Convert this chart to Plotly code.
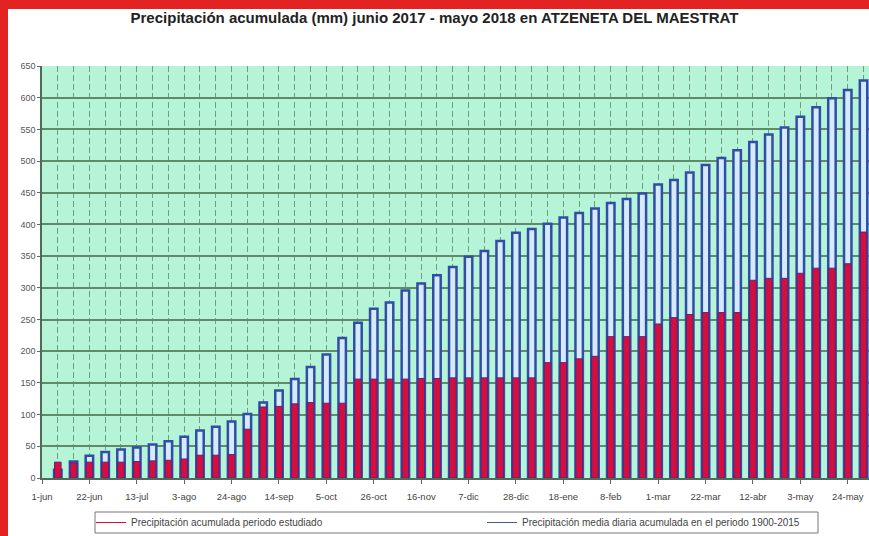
import plotly.graph_objects as go
import pandas as pd

# ---------------- data ----------------
BAR_DATES = pd.date_range("2017-06-08", "2018-05-31", freq="7D")

MEDIA_ACUM = [13, 26, 35, 41, 45, 48, 53, 58, 65, 75, 81, 89, 101, 119, 138, 156,
              175, 195, 221, 245, 267, 277, 296, 307, 320, 333, 349, 358, 374, 387,
              393, 401, 411, 418, 425, 434, 440, 449, 463, 470, 482, 494, 505, 517,
              530, 542, 553, 570, 585, 599, 612, 627]

PERIODO_ACUM = [25, 24, 25, 25, 25, 26, 27, 28, 30, 36, 36, 37, 77, 112, 113, 117,
                119, 118, 118, 156, 156, 156, 156, 157, 157, 158, 158, 158, 158, 158,
                158, 182, 182, 188, 192, 223, 223, 223, 243, 253, 258, 261, 261, 261,
                312, 315, 315, 323, 331, 331, 338, 388]

TICK_DATES = ["2017-06-01", "2017-06-22", "2017-07-13", "2017-08-03", "2017-08-24",
              "2017-09-14", "2017-10-05", "2017-10-26", "2017-11-16", "2017-12-07",
              "2017-12-28", "2018-01-18", "2018-02-08", "2018-03-01", "2018-03-22",
              "2018-04-12", "2018-05-03", "2018-05-24"]
TICK_LABELS = ["1-jun", "22-jun", "13-jul", "3-ago", "24-ago", "14-sep", "5-oct",
               "26-oct", "16-nov", "7-dic", "28-dic", "18-ene", "8-feb", "1-mar",
               "22-mar", "12-abr", "3-may", "24-may"]

TITLE = "Precipitación acumulada (mm) junio 2017 - mayo 2018 en ATZENETA DEL MAESTRAT"
NAME_RED = "Precipitación acumulada periodo estudiado"
NAME_BLUE = "Precipitación media diaria acumulada en el periodo 1900-2015"

# ---------------- layout geometry ----------------
W, H = 869, 536
ML, MR, MT, MB = 42, 0, 66, 58
PW, PH = W - ML - MR, H - MT - MB
DAY = 86400000


def px_x(px):
    return (px - ML) / PW


def px_y(py):
    return (H - MB - py) / PH


fig = go.Figure()

fig.add_trace(go.Bar(
    x=BAR_DATES, y=MEDIA_ACUM, width=3.3 * DAY,
    marker=dict(color="#d6eafb", line=dict(color="#2f4ea6", width=2.5)),
    showlegend=False, hoverinfo="skip"))

fig.add_trace(go.Bar(
    x=BAR_DATES, y=PERIODO_ACUM, width=2.9 * DAY,
    marker=dict(color="#d50f3d", line=dict(color="#5b237f", width=1)),
    showlegend=False, hoverinfo="skip"))

# legend entries drawn as lines (two legends placed inside one framed box)
fig.add_trace(go.Scatter(x=[None], y=[None], mode="lines", name=NAME_RED,
                         line=dict(color="#d50f3d", width=1), legend="legend"))
fig.add_trace(go.Scatter(x=[None], y=[None], mode="lines", name=NAME_BLUE,
                         line=dict(color="#4a5a7a", width=1), legend="legend2"))

grid_h = "#5f8b6c"
grid_v = "#6f9f7e"
leg_common = dict(orientation="h", bgcolor="rgba(0,0,0,0)", borderwidth=0,
                  font=dict(size=10, color="#444"), itemwidth=30,
                  xanchor="left", yanchor="middle", y=px_y(522.5))

fig.update_layout(
    width=W, height=H,
    margin=dict(l=ML, r=MR, t=MT, b=MB, pad=0, autoexpand=False),
    paper_bgcolor="white",
    plot_bgcolor="#b5f4d6",
    barmode="overlay",
    font=dict(family="Liberation Sans, Arial, sans-serif", color="#444"),
    title=dict(text="<b>" + TITLE + "</b>", x=0.5, xanchor="center",
               y=1 - 18 / H, yanchor="middle", yref="container",
               font=dict(size=15, color="#222")),
    xaxis=dict(
        type="date",
        range=["2017-06-01", "2018-06-02 10:00"],
        tickmode="array", tickvals=TICK_DATES, ticktext=TICK_LABELS,
        tickfont=dict(size=9.5, color="#444"),
        ticks="outside", ticklen=4, tickcolor="#666",
        ticklabelstandoff=5,
        showgrid=True, gridcolor=grid_v, gridwidth=1.3, griddash="6px,3px",
        minor=dict(tickmode="linear", tick0="2017-06-01", dtick=7 * DAY,
                   showgrid=True, gridcolor=grid_v, gridwidth=1.3,
                   griddash="6px,3px", ticks=""),
        showline=True, linecolor="#4d6b58", linewidth=1.5,
        zeroline=False,
    ),
    yaxis=dict(
        range=[0, 650], dtick=50, tick0=0,
        tickfont=dict(size=9, color="#555"),
        ticks="outside", ticklen=3, tickcolor="#666",
        showgrid=True, gridcolor=grid_h, gridwidth=1.5,
        showline=True, linecolor="#4d6b58", linewidth=1.5,
        zeroline=False,
    ),
    legend=dict(x=px_x(91), **leg_common),
    legend2=dict(x=px_x(482), **leg_common),
    shapes=[
        # legend frame
        dict(type="rect", xref="paper", yref="paper", layer="above",
             x0=px_x(95), x1=px_x(818), y0=px_y(533), y1=px_y(512),
             fillcolor="white", line=dict(color="#777", width=1)),
        # red border of the picture
        dict(type="rect", xref="paper", yref="paper", layer="above",
             x0=px_x(0), x1=px_x(8), y0=px_y(H), y1=px_y(0),
             fillcolor="#e32222", line=dict(width=0)),
        dict(type="rect", xref="paper", yref="paper", layer="above",
             x0=px_x(0), x1=px_x(W), y0=px_y(9), y1=px_y(0),
             fillcolor="#e32222", line=dict(width=0)),
    ],
)

fig.write_html("out.html",
               config={"displayModeBar": False},
               post_script="document.body.style.margin='0';"
                           "document.body.style.overflow='hidden';")
